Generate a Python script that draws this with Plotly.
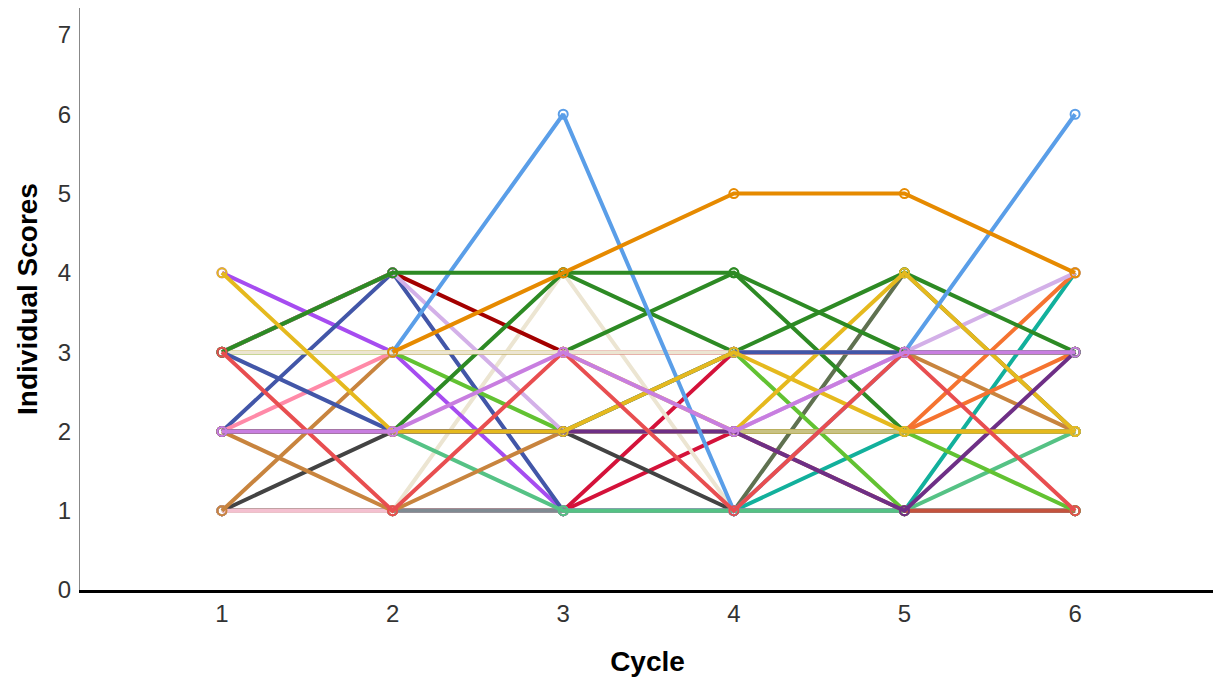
import plotly.graph_objects as go

cycles = [1, 2, 3, 4, 5, 6]

# individual score trajectories (one list per participant)
s_teal_a     = [1, 1, 1, 1, 1, 4]
s_teal_b     = [1, 1, 1, 1, 2, 2]
s_crimson_a  = [1, 1, 1, 3, 3, 3]
s_crimson_b  = [1, 1, 1, 2, 2, 2]
s_olive      = [1, 1, 1, 1, 4, 2]
s_cream_b    = [1, 1, 4, 1, 1, 1]
s_violet     = [4, 3, 1, 1, 1, 1]
s_darkblue_a = [2, 4, 1, 1, 1, 1]
s_darkgray   = [1, 2, 2, 1, 1, 1]
s_lime_a     = [3, 3, 2, 3, 1, 1]
s_lightpink  = [1, 1, 1, 1, 1, 1]
s_gray       = [None, 1, 1, 1, 1, 1]
s_seagreen   = [2, 2, 1, 1, 1, 2]
s_brick      = [2, 2, 2, 2, 1, 1]
s_tan_a      = [2, 1, 2, 2, 2, 2]
s_tan_b      = [1, 3, 3, 3, 3, 2]
s_orange2_a  = [2, 2, 2, 2, 2, 4]
s_orange2_b  = [2, 2, 2, 2, 2, 3]
s_lime_b     = [2, 2, 2, 2, 2, 1]
s_darkred    = [3, 4, 3, 3, 3, 3]
s_lavender   = [3, 4, 2, 2, 3, 4]
s_pink       = [2, 3, 3, 3, 3, 3]
s_green_b    = [2, 2, 4, 3, 4, 3]
s_green_c    = [3, 3, 3, 4, 2, 2]
s_gold_b     = [3, 3, 3, 2, 4, 2]
s_khaki      = [2, 2, 2, 2, 2, 2]
s_darkpurple = [2, 2, 2, 2, 1, 3]
s_cream_a    = [3, 3, 3, 3, 3, 3]
s_darkblue_b = [3, 2, 2, 3, 3, 3]
s_lightblue  = [None, 3, 6, 1, 3, 6]
s_green_a    = [3, 4, 4, 4, 3, 3]
s_gold_a     = [4, 2, 2, 3, 2, 2]
s_red        = [3, 1, 3, 1, 3, 1]
s_orchid     = [2, 2, 3, 2, 3, 3]
s_orange     = [None, 3, 4, 5, 5, 4]

# drawn in this order (later = on top)
series = [
    (s_teal_a, "#12b09c"), (s_teal_b, "#12b09c"), (s_crimson_a, "#d4123a"),
    (s_crimson_b, "#d4123a"), (s_olive, "#5f7150"), (s_cream_b, "#ece5d2"),
    (s_violet, "#a64cf0"), (s_darkblue_a, "#4256a8"), (s_darkgray, "#434343"),
    (s_lime_a, "#62c232"),
    (s_lightpink, "#f4c0d0"), (s_gray, "#7f8a92"), (s_seagreen, "#55c285"),
    (s_brick, "#c4533e"), (s_tan_a, "#c8843e"), (s_tan_b, "#c8843e"),
    (s_orange2_a, "#f57330"), (s_orange2_b, "#f57330"),
    (s_lime_b, "#62c232"), (s_darkred, "#a30000"), (s_lavender, "#d3b0e8"),
    (s_pink, "#ff8aa8"), (s_green_b, "#2d8a24"), (s_green_c, "#2d8a24"),
    (s_gold_b, "#e5b91e"),
    (s_khaki, "#c9c283"), (s_darkpurple, "#6e2f86"), (s_cream_a, "#ece5d2"),
    (s_darkblue_b, "#4256a8"), (s_lightblue, "#5a9ee8"), (s_green_a, "#2d8a24"),
    (s_gold_a, "#e5b91e"), (s_red, "#e84e50"),
    (s_orchid, "#c87ee0"), (s_orange, "#e68a00"),
]

fig = go.Figure()
for vals, col in series:
    fig.add_trace(go.Scatter(
        x=cycles, y=vals, mode="lines+markers",
        line=dict(color=col, width=4),
        marker=dict(symbol="circle-open", size=9, color=col, line=dict(width=2, color=col)),
        showlegend=False, hoverinfo="x+y",
    ))

fig.update_layout(
    width=1213, height=675,
    margin=dict(l=72, r=6, t=0, b=93),
    paper_bgcolor="white", plot_bgcolor="white",
    font=dict(family="Liberation Sans, Arial, sans-serif"),
)
fig.update_xaxes(
    range=[0.168, 6.82], tickvals=cycles, ticktext=[str(c) for c in cycles],
    showgrid=False, zeroline=False, showline=True, linecolor="black", linewidth=3,
    ticks="", tickfont=dict(size=24, color="#333"), automargin=False,
    title=dict(text="<b>Cycle</b>", font=dict(size=28, color="black"), standoff=26),
)
fig.update_yaxes(
    range=[0, 7.34], tickvals=[0, 1, 2, 3, 4, 5, 6, 7],
    showgrid=False, zeroline=False, showline=True, linecolor="#888", linewidth=1,
    ticks="", tickfont=dict(size=24, color="#333"), ticklabelstandoff=3, automargin=False,
    title=dict(text="<b>Individual Scores</b>", font=dict(size=28, color="black"), standoff=12),
)

fig.write_html("out.html")
